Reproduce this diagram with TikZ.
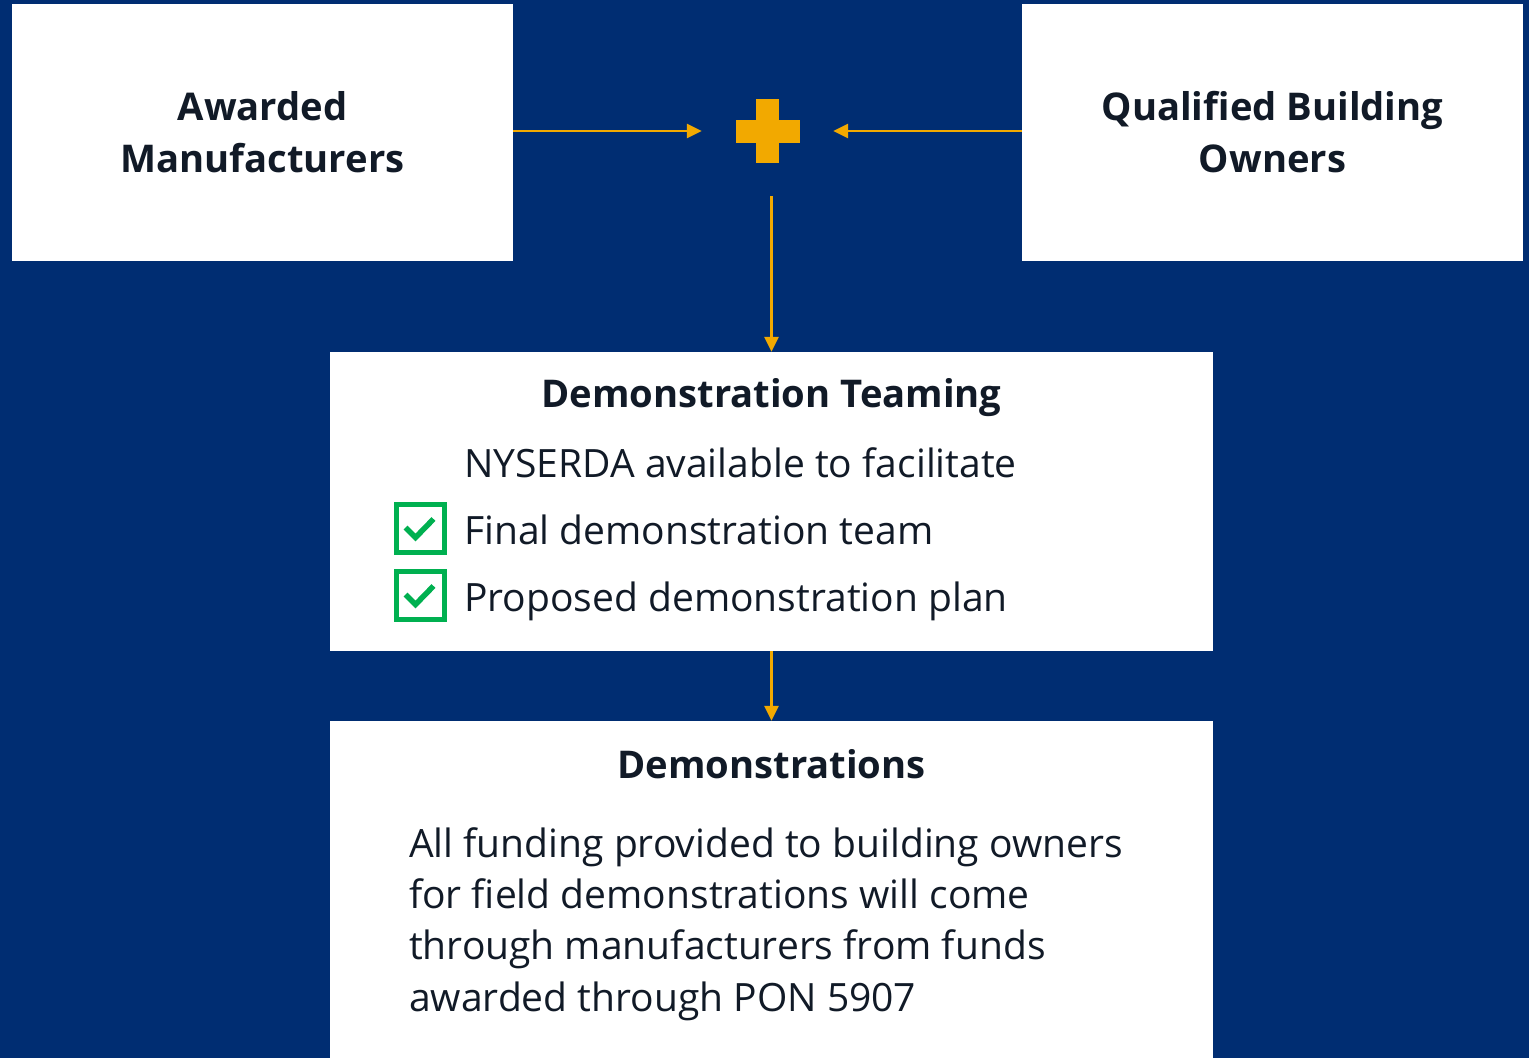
\documentclass[tikz,border=0pt]{standalone}
\usepackage{fontspec}
\setmainfont{Open Sans}
\usetikzlibrary{calc}
\usetikzlibrary{arrows.meta}
\usetikzlibrary{positioning}

\definecolor{navy}{RGB}{0,45,114}
\definecolor{gold}{RGB}{242,169,0}
\definecolor{tick}{RGB}{0,176,80}
\definecolor{ink}{RGB}{17,26,39}

\tikzset{
    box/.style={fill=white, inner sep=0pt, text=ink, align=center},
    head/.style={text=ink, font=\fontsize{38.2}{52}\selectfont\bfseries, inner sep=0pt},
    body/.style={text=ink, font=\fontsize{39}{51.3}\selectfont, inner sep=0pt, anchor=base west},
    link/.style={gold, line width=2.5pt, -{Triangle[width=14pt,length=15pt]}},
    chkbox/.style={draw=tick, line width=5pt, minimum size=48pt, inner sep=0pt}
}

\begin{document}
\begin{tikzpicture}[x=1pt, y=-1pt]
        % Background
        \fill[navy] (0,0) rectangle (1529,1058);
        \useasboundingbox (0,0) rectangle (1529,1058);

        % Top boxes
        \node[box, minimum width=501pt, minimum height=257pt, font=\fontsize{38.2}{52}\selectfont\bfseries] (mfr) at (262.5,132.5) {Awarded\\Manufacturers};
        \node[box, minimum width=501pt, minimum height=257pt, font=\fontsize{38.2}{52}\selectfont\bfseries] (owner) at (1272.5,132.5) {Qualified Building\\Owners};

        % Plus sign
        \node[minimum width=131pt, minimum height=130pt, inner sep=0pt] (plus) at (767.5,131) {};
        \fill[gold] ($(plus.center)+(-32,-11.5)$) rectangle ($(plus.center)+(32,11.5)$);
        \fill[gold] ($(plus.center)+(-11.5,-32)$) rectangle ($(plus.center)+(11.5,32)$);

        % Teaming box
        \node[box, minimum width=883pt, minimum height=299pt] (team) at (771.5,501.5) {};
        \node[head, anchor=base] (teamtitle) at (771.5,407) {Demonstration Teaming};
        \node[body] (fac) at (464,477) {NYSERDA available to facilitate};
        \node[body] (final) at (464,544) {Final demonstration team};
        \node[body] (plan) at (464,611) {Proposed demonstration plan};
        \node[chkbox] (chk1) at (420.5,528.5) {};
        \node[chkbox] (chk2) at (420.5,595.5) {};
        \foreach \c in {chk1,chk2} {
            \draw[tick, line width=5.5pt] ($(\c.center)+(-15,-1)$) -- ($(\c.center)+(-5,9)$) -- ($(\c.center)+(13,-9.5)$);
        }

        % Demonstrations box
        \node[box, minimum width=883pt, minimum height=337pt] (demo) at (771.5,889.5) {};
        \node[head, anchor=base] (demotitle) at (771.5,778) {Demonstrations};
        \node[body, align=left] (fund) at (409,1011) {All funding provided to building owners\\for field demonstrations will come\\through manufacturers from funds\\awarded through PON 5907};

        % Arrows
        \draw[link] (mfr.east |- plus.west) -- (plus.west);
        \draw[link] (owner.west |- plus.east) -- (plus.east);
        \draw[link] (plus.south -| team.north) -- (team.north);
        \draw[link] (team.south) -- (demo.north);
\end{tikzpicture}
\end{document}
